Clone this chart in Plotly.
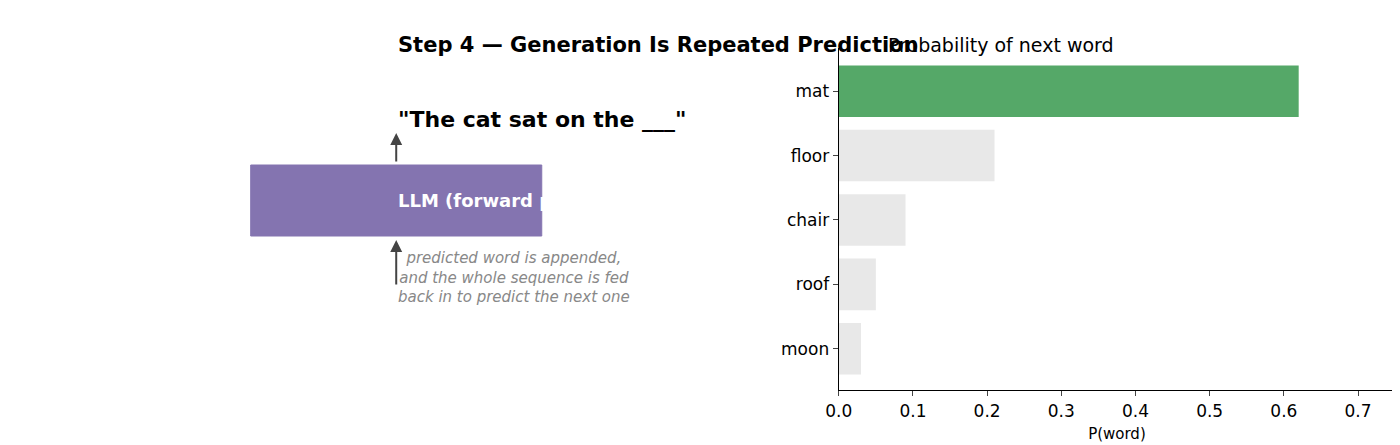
import plotly.graph_objects as go

words = ["mat", "floor", "chair", "roof", "moon"]
probs = [0.62, 0.21, 0.09, 0.05, 0.03]
colors = ["#55a868", "#e8e8e8", "#e8e8e8", "#e8e8e8", "#e8e8e8"]
xticks = [0.0, 0.1, 0.2, 0.3, 0.4, 0.5, 0.6, 0.7]

W, H = 1400, 445
def px(x): return x / W
def py(y): return 1 - y / H

fig = go.Figure(go.Bar(x=probs, y=words, orientation="h", marker=dict(color=colors, line_width=0),
                       width=0.8, showlegend=False))

font = "DejaVu Sans"
fig.update_layout(width=W, height=H, margin=dict(l=0, r=0, t=0, b=0), paper_bgcolor="white",
                  plot_bgcolor="white", font=dict(family=font, size=17, color="black"))
fig.update_xaxes(domain=[px(825), px(1387)], range=[0, 0.75], tickvals=xticks,
                 ticktext=[f"{v:.1f}" for v in xticks], showline=True, linecolor="black",
                 linewidth=1.3, ticks="outside", ticklen=5, showgrid=False, zeroline=False,
                 title=dict(text="P(word)", font=dict(size=15), standoff=8))
fig.update_yaxes(domain=[py(382), py(40)], range=[4.64, -0.67], showline=True, linecolor="black",
                 linewidth=1.3, ticks="outside", ticklen=5, showgrid=False, zeroline=False)

# right title
fig.add_annotation(x=px(1105), y=py(24), xref="paper", yref="paper", text="Probability of next word",
                   showarrow=False, font=dict(size=19))
# left panel
fig.add_annotation(x=px(378), y=py(23), xref="paper", yref="paper",
                   text="<b>Step 4 — Generation Is Repeated Prediction</b>", showarrow=False, font=dict(size=21))
fig.add_annotation(x=px(378), y=py(97), xref="paper", yref="paper",
                   text="<b>\"The cat sat on the ___\"</b>", showarrow=False, font=dict(size=22))
fig.add_shape(type="rect", xref="paper", yref="paper", x0=px(231), x1=px(525), y0=py(228), y1=py(157),
              fillcolor="#8474b0", line=dict(color="#8474b0", width=1), layer="above")
fig.add_annotation(x=px(378), y=py(192), xref="paper", yref="paper", text="<b>LLM (forward pass)</b>",
                   showarrow=False, font=dict(size=18, color="white"))
for y0, y1 in [(278, 232), (155, 125)]:
    fig.add_annotation(x=px(378), y=py(y1), ax=0, ay=y0 - y1, xref="paper", yref="paper",
                       axref="pixel", ayref="pixel", text="", showarrow=True, arrowhead=2,
                       arrowsize=1.2, arrowwidth=2, arrowcolor="#444444")
fig.add_annotation(x=px(378), y=py(300), xref="paper", yref="paper",
                   text="<i>predicted word is appended,<br>and the whole sequence is fed<br>back in to predict the next one</i>",
                   showarrow=False, font=dict(size=15, color="#888888"))

fig.write_html("out.html")
